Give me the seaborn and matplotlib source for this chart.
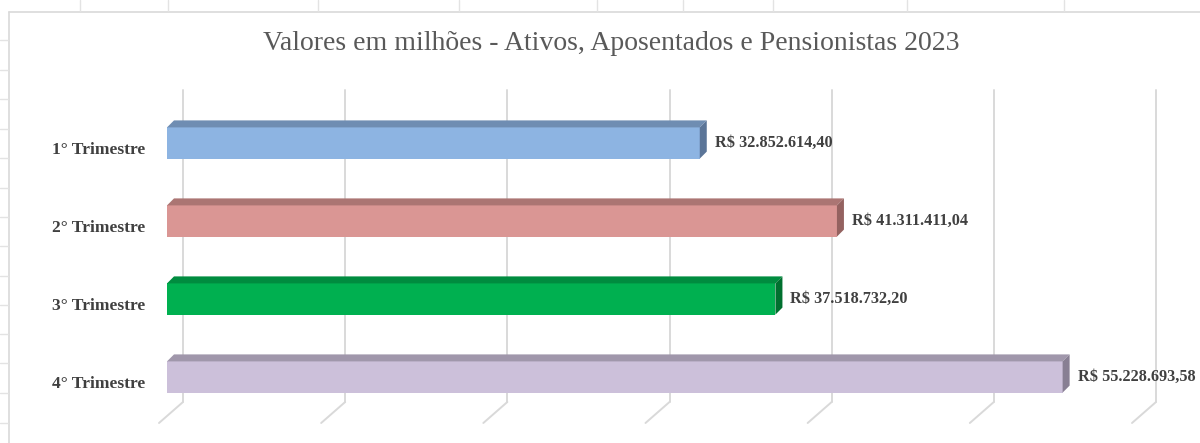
import matplotlib
matplotlib.use("Agg")
import matplotlib.pyplot as plt
from matplotlib.patches import Polygon
from matplotlib.transforms import offset_copy
import pandas as pd
import seaborn as sns

categories = ["1° Trimestre", "2° Trimestre", "3° Trimestre", "4° Trimestre"]
values = [32852614.40, 41311411.04, 37518732.20, 55228693.58]
value_labels = ["R$ 32.852.614,40", "R$ 41.311.411,04",
                "R$ 37.518.732,20", "R$ 55.228.693,58"]
title = "Valores em milhões - Ativos, Aposentados e Pensionistas 2023"

front_colors = ["#8DB4E2", "#DA9694", "#00B050", "#CCC0DA"]
top_colors = ["#6F8DB2", "#AB7573", "#008C3F", "#A097AB"]
side_colors = ["#5B7598", "#946260", "#00702F", "#887F93"]

grid_ticks = [0, 10e6, 20e6, 30e6, 40e6, 50e6, 60e6]

sns.set_theme(style="white")
plt.rcParams["font.family"] = ["Liberation Serif", "DejaVu Serif"]

W, H = 1200, 443
fig = plt.figure(figsize=(W / 100, H / 100), dpi=100)
ax = fig.add_axes([167 / W, 1 - 416 / H, (1140 - 167) / W, (416 - 104) / H])

df = pd.DataFrame({"trimestre": categories, "valor": values})
sns.barplot(data=df, x="valor", y="trimestre", hue="trimestre",
            palette=front_colors, saturation=1, orient="h", width=0.4,
            legend=False, edgecolor="none", ax=ax, zorder=3)
ax.set_xlim(0, 60e6)
ax.set_ylim(3.5, -0.5)
ax.set_xlabel("")
ax.set_ylabel("")
ax.set_xticks([])
ax.set_yticks([])
for s in ax.spines.values():
    s.set_visible(False)


def px(dx, dy):
    # pixel offset (dy up) -> data offset
    x0, y0 = ax.transData.transform((0, 0))
    xd, yd = ax.transData.inverted().transform((x0 + dx, y0 + dy))
    return xd, yd


# back wall gridlines and floor diagonals
bx, by = px(16, 14)
fx, fy = px(-8, -7)
for v in grid_ticks:
    ax.plot([v + bx, v + bx], [-0.5 + by, 3.5 + by], color="#d9d9d9",
            lw=1.4, zorder=1, clip_on=False)
    ax.plot([v + bx, v + fx], [3.5 + by, 3.5 + fy], color="#d9d9d9",
            lw=1.4, zorder=1, clip_on=False)

# 3D top and side faces
dx, dy = px(7, 7)
for i, bar in enumerate(ax.patches):
    x0 = bar.get_x()
    x1 = x0 + bar.get_width()
    yt = bar.get_y()
    yb = yt + bar.get_height()
    top = Polygon([(x0, yt), (x1, yt), (x1 + dx, yt + dy), (x0 + dx, yt + dy)],
                  closed=True, facecolor=top_colors[i], edgecolor="none",
                  zorder=3, clip_on=False)
    side = Polygon([(x1, yt), (x1, yb), (x1 + dx, yb + dy), (x1 + dx, yt + dy)],
                   closed=True, facecolor=side_colors[i], edgecolor="none",
                   zorder=3, clip_on=False)
    ax.add_patch(top)
    ax.add_patch(side)
    lab_tr = offset_copy(ax.transData, fig, x=15, y=0, units="dots")
    ax.text(x1, i, value_labels[i], transform=lab_tr, ha="left", va="center",
            fontsize=11.7, fontweight="bold", color="#404040", zorder=4)

# category labels (sit on the floor front)
cat_tr = offset_copy(ax.transData, fig, x=-22, y=-7, units="dots")
for i, c in enumerate(categories):
    ax.text(0, i, c, transform=cat_tr, ha="right", va="center",
            fontsize=12.6, fontweight="bold", color="#404040")

fig.text(611 / W, 1 - 43 / H, title, ha="center", va="center",
         fontsize=20, color="#595959")

# chart area border and sheet cell grid behind it
fig.add_artist(plt.Line2D([9 / W, 1], [1 - 12 / H, 1 - 12 / H],
                          transform=fig.transFigure, color="#d9d9d9", lw=1.2))
fig.add_artist(plt.Line2D([9 / W, 9 / W], [0, 1 - 12 / H],
                          transform=fig.transFigure, color="#d9d9d9", lw=1.2))
for yy in [40, 70, 99, 129, 158, 188, 217, 246, 276, 305, 334, 363, 393, 423]:
    fig.add_artist(plt.Line2D([0, 8 / W], [1 - yy / H, 1 - yy / H],
                              transform=fig.transFigure, color="#e3e3e3", lw=1))
for xx in [80, 168, 318, 459, 597, 683, 773, 907, 1064]:
    fig.add_artist(plt.Line2D([xx / W, xx / W], [1 - 11 / H, 1],
                              transform=fig.transFigure, color="#e3e3e3", lw=1))

fig.savefig("out.png", dpi=100)
